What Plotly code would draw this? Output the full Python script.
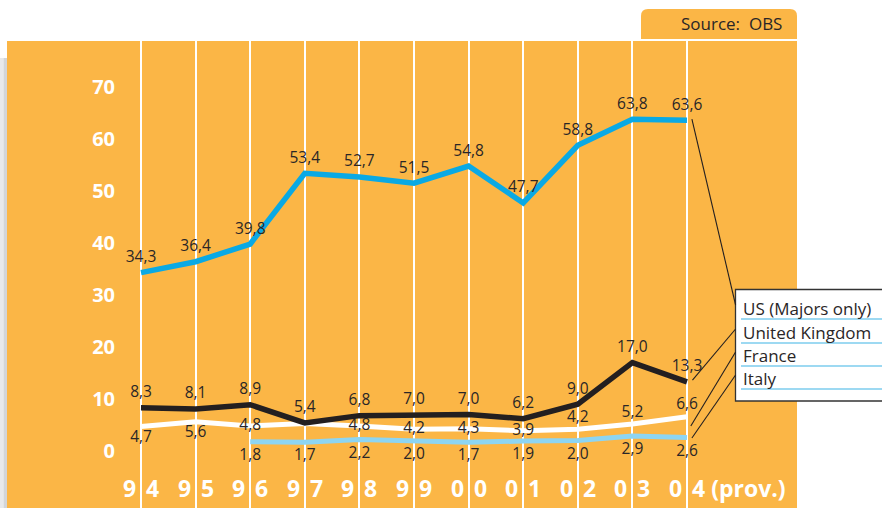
import plotly.graph_objects as go

# ---------------- data ----------------
years = ["94", "95", "96", "97", "98", "99", "00", "01", "02", "03", "04"]
x_left = ["9", "9", "9", "9", "9", "9", "0", "0", "0", "0", "0"]
x_right = ["4", "5", "6", "7", "8", "9", "0", "1", "2", "3", "4 (prov.)"]
us = [34.3, 36.4, 39.8, 53.4, 52.7, 51.5, 54.8, 47.7, 58.8, 63.8, 63.6]
uk = [8.3, 8.1, 8.9, 5.4, 6.8, 7.0, 7.0, 6.2, 9.0, 17.0, 13.3]
france = [4.7, 5.6, 4.8, 5.3, 4.8, 4.2, 4.3, 3.9, 4.2, 5.2, 6.6]
france_labelled = [True, True, True, False, True, True, True, True, True, True, True]
italy = [None, None, 1.8, 1.7, 2.2, 2.0, 1.7, 1.9, 2.0, 2.9, 2.6]
series_names = ["US (Majors only)", "United Kingdom", "France", "Italy"]
y_ticks = [0, 10, 20, 30, 40, 50, 60, 70]
source_text = "Source:  OBS"

# ---------------- styles ----------------
ORANGE = "#FBB646"
US_BLUE = "#0AA9E4"
UK_BLACK = "#231F20"
FR_WHITE = "#FFFFFF"
IT_BLUE = "#8DD5F2"
TXT = "#2A2627"
FONT = "Open Sans"
LBL = 15.5
GHOST = dict(size=9, color="rgba(0,0,0,0)")

idx = list(range(len(years)))


def lab(v):
    return "" if v is None else f"{v:.1f}".replace(".", ",")


fr_pos = ["bottom center", "bottom center", "middle center", "middle center",
          "middle center", "middle center", "middle center", "middle center",
          "top center", "top center", "top center"]

fig = go.Figure()
fig.add_trace(go.Scatter(x=idx, y=italy, mode="lines+markers+text", text=[lab(v) for v in italy],
                         textposition="bottom center", line=dict(color=IT_BLUE, width=5),
                         marker=GHOST,
                         textfont=dict(family=FONT, size=LBL, color=TXT), name=series_names[3]))
fig.add_trace(go.Scatter(x=idx, y=france, mode="lines+markers+text",
                         text=[lab(v) if f else "" for v, f in zip(france, france_labelled)],
                         textposition=fr_pos, line=dict(color=FR_WHITE, width=5),
                         marker=dict(size=4, color="rgba(0,0,0,0)"),
                         textfont=dict(family=FONT, size=LBL, color=TXT), name=series_names[2]))
fig.add_trace(go.Scatter(x=idx, y=uk, mode="lines+markers+text", text=[lab(v) for v in uk],
                         textposition="top center", line=dict(color=UK_BLACK, width=5.5),
                         marker=GHOST,
                         textfont=dict(family=FONT, size=LBL, color=TXT), name=series_names[1]))
fig.add_trace(go.Scatter(x=idx, y=us, mode="lines+markers+text", text=[lab(v) for v in us],
                         textposition="top center", line=dict(color=US_BLUE, width=5.5),
                         marker=GHOST,
                         textfont=dict(family=FONT, size=LBL, color=TXT), name=series_names[0]))

# ---------------- geometry helpers (pixels -> paper) ----------------
PL, PR, PT, PB = 118, 797, 41, 508
W = PR - PL
H = PB - PT


def px(x):
    return (x - PL) / W


def py(y):
    return (PB - y) / H


shapes = []
# orange panel continuation into the left margin
shapes.append(dict(type="rect", xref="paper", yref="paper", x0=px(7), x1=0, y0=0, y1=1,
                   fillcolor=ORANGE, line=dict(width=0), layer="below"))
# grey shadow at far left
shapes.append(dict(type="rect", xref="paper", yref="paper", x0=px(0), x1=px(3.5), y0=0, y1=py(58),
                   fillcolor="#E8E9EB", line=dict(width=0), layer="below"))
shapes.append(dict(type="rect", xref="paper", yref="paper", x0=px(3.5), x1=px(7), y0=0, y1=py(58),
                   fillcolor="#D3D5D8", line=dict(width=0), layer="below"))
# source tab with rounded top corners
x0, x1, y0, y1 = px(641), px(797), py(39), py(9)
rx, ry = 7 / W, 7 / H
shapes.append(dict(type="path", xref="paper", yref="paper",
                   path=f"M {x0},{y0} L {x0},{y1-ry} Q {x0},{y1} {x0+rx},{y1} "
                        f"L {x1-rx},{y1} Q {x1},{y1} {x1},{y1-ry} L {x1},{y0} Z",
                   fillcolor=ORANGE, line=dict(width=0)))

# legend box
shapes.append(dict(type="rect", xref="paper", yref="paper", x0=px(735.5), x1=px(892),
                   y0=py(401), y1=py(289.5), fillcolor="white",
                   line=dict(color="#333333", width=1.3)))
row_px = [308, 332, 355, 378]
for r in row_px:
    shapes.append(dict(type="line", xref="paper", yref="paper", x0=px(741), x1=px(890),
                       y0=py(r + 11), y1=py(r + 11), line=dict(color="#7CCDEE", width=1.6)))

# leader lines from series ends to legend rows (data coordinates)
last = len(years) - 1
lead_start = [(last + 0.09, us[-1] + 0.2), (last + 0.10, uk[-1] + 0.35),
              (last + 0.07, france[-1] - 1.8), (last + 0.09, italy[-1] - 0.1)]
lead_end_y = [(451 - (r - 3)) / 5.2 for r in row_px]
for (sx, sy), ey in zip(lead_start, lead_end_y):
    shapes.append(dict(type="line", xref="x", yref="y", x0=sx, y0=sy, x1=last + 0.89, y1=ey,
                       line=dict(color="#231F20", width=1.1)))

annotations = []
for name, r in zip(series_names, row_px):
    annotations.append(dict(xref="paper", yref="paper", x=px(741), y=py(r), text=name,
                            showarrow=False, xanchor="left", yanchor="middle",
                            font=dict(family=FONT, size=17, color=TXT)))
annotations.append(dict(xref="paper", yref="paper", x=px(784), y=py(24), text=source_text,
                        showarrow=False, xanchor="right", yanchor="middle",
                        font=dict(family=FONT, size=17, color=TXT)))
for i, (l, r) in enumerate(zip(x_left, x_right)):
    annotations.append(dict(xref="x", yref="paper", x=i, y=py(488), text=l, showarrow=False,
                            xanchor="right", yanchor="middle", xshift=-3,
                            font=dict(family=FONT, size=23, color="white", weight="bold")))
    annotations.append(dict(xref="x", yref="paper", x=i, y=py(488), text=r, showarrow=False,
                            xanchor="left", yanchor="middle", xshift=3,
                            font=dict(family=FONT, size=23, color="white", weight="bold")))

xmin = -(141 - PL) / 54.6
xmax = last + (PR - 687) / 54.6
ymax = (451 - PT) / 5.2
ymin = (451 - PB) / 5.2

fig.update_layout(
    width=882, height=508,
    margin=dict(l=PL, r=882 - PR, t=PT, b=0),
    paper_bgcolor="white", plot_bgcolor=ORANGE,
    showlegend=False,
    shapes=shapes, annotations=annotations,
    xaxis=dict(range=[xmin, xmax], tickvals=idx, showticklabels=False, showgrid=True,
               gridcolor="white", gridwidth=1.5, zeroline=False, showline=False, fixedrange=True),
    yaxis=dict(range=[ymin, ymax], tickvals=y_ticks, ticktext=[str(v) for v in y_ticks],
               showgrid=False, zeroline=False, showline=False, ticks="",
               tickfont=dict(family=FONT, size=20, color="white", weight="bold"),
               ticklabelstandoff=2, fixedrange=True),
)

fig.write_html("out.html", config={"displayModeBar": False},
               post_script="document.body.style.margin='0';document.body.style.overflow='hidden';")
